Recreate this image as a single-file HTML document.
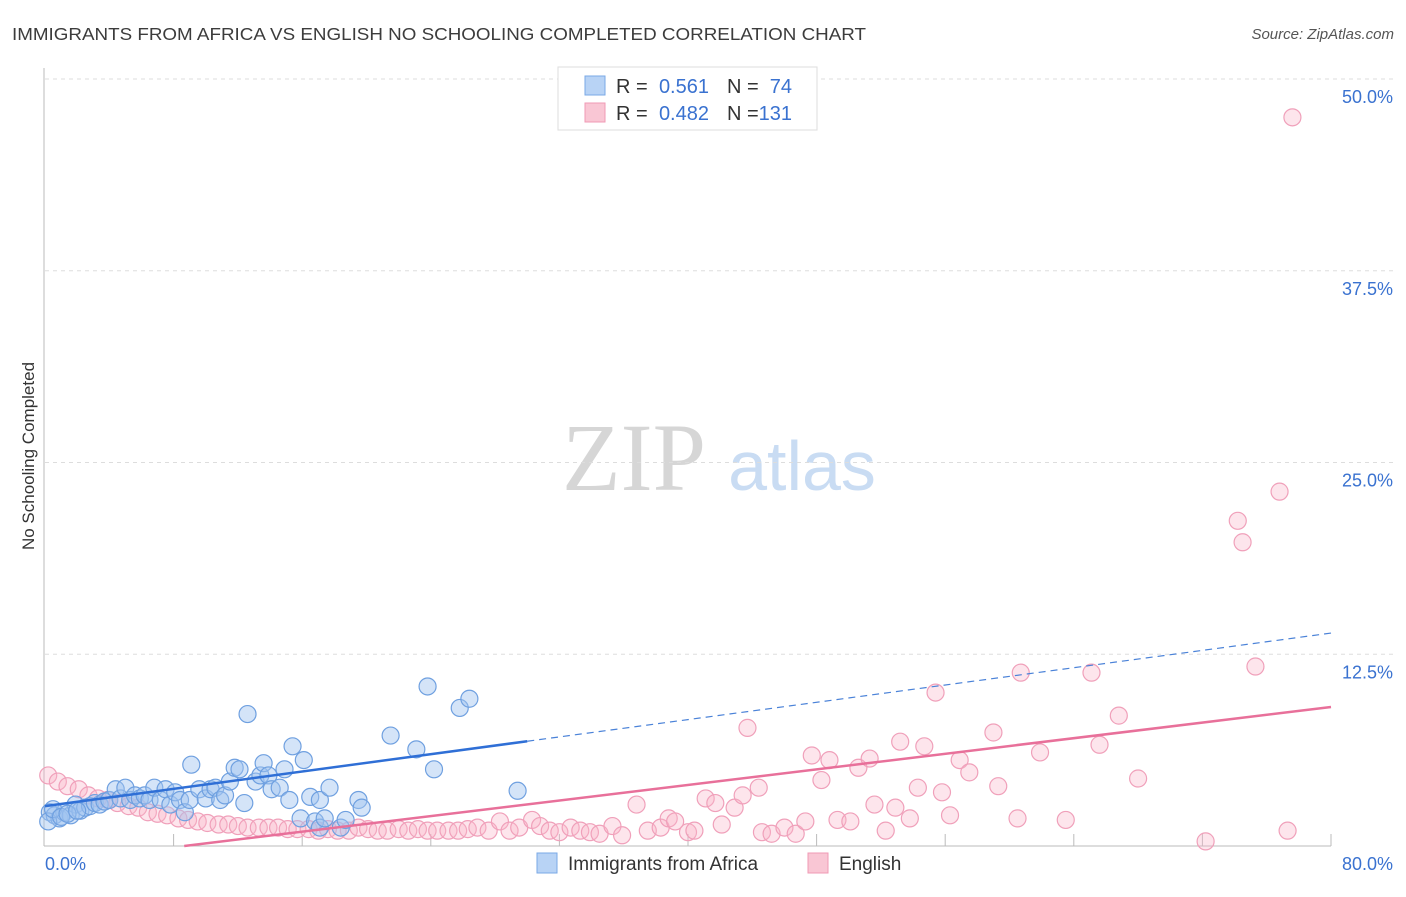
<!DOCTYPE html>
<html><head><meta charset="utf-8"><style>
body{margin:0;background:#fff;font-family:"Liberation Sans",sans-serif}
</style></head><body>
<svg id="c" width="1406" height="892" xmlns="http://www.w3.org/2000/svg" font-family="Liberation Sans, sans-serif">
<text x="12" y="40" font-size="17.5" fill="#3c3c3c" textLength="854" lengthAdjust="spacingAndGlyphs">IMMIGRANTS FROM AFRICA VS ENGLISH NO SCHOOLING COMPLETED CORRELATION CHART</text>
<text x="1394" y="39" font-size="15" fill="#555" text-anchor="end" font-style="italic">Source: ZipAtlas.com</text>
<text transform="translate(34,456) rotate(-90)" font-size="17" fill="#333" text-anchor="middle">No Schooling Completed</text>
<g>
<text x="634" y="490" font-size="96" fill="#d6d6d6" text-anchor="middle" style="font-family:'Liberation Serif',serif">ZIP</text>
<text x="802" y="490" font-size="70" fill="#c9dcf3" text-anchor="middle">atlas</text>
</g>
<g id="grid"></g>
<g id="marks"></g>
<g>
<rect x="558" y="67" width="259" height="63" fill="#fff" stroke="#ddd"/>
<rect x="585" y="76" width="20" height="19" fill="#b8d3f5" stroke="#7aa8e6"/>
<rect x="585" y="103" width="20" height="19" fill="#f9c6d4" stroke="#f09ab5"/>
<text x="616" y="93" font-size="20" fill="#333">R =</text>
<text x="709" y="93" font-size="20" fill="#3a72d0" text-anchor="end">0.561</text>
<text x="727" y="93" font-size="20" fill="#333">N =</text>
<text x="792" y="93" font-size="20" fill="#3a72d0" text-anchor="end">74</text>
<text x="616" y="120" font-size="20" fill="#333">R =</text>
<text x="709" y="120" font-size="20" fill="#3a72d0" text-anchor="end">0.482</text>
<text x="727" y="120" font-size="20" fill="#333">N =</text>
<text x="792" y="120" font-size="20" fill="#3a72d0" text-anchor="end">131</text>
</g>
<g>
<rect x="537" y="853" width="20" height="20" fill="#b8d3f5" stroke="#7aa8e6"/>
<text x="568" y="870" font-size="19" fill="#333">Immigrants from Africa</text>
<rect x="808" y="853" width="20" height="20" fill="#f9c6d4" stroke="#f09ab5"/>
<text x="839" y="870" font-size="19" fill="#333">English</text>
</g>
<text x="45" y="870" font-size="18" fill="#3a72d0">0.0%</text>
<text x="1393" y="870" font-size="18" fill="#3a72d0" text-anchor="end">80.0%</text>
</svg>
<script>
const yTicks=[12.5,25,37.5,50];
const yTickLabels=["12.5%","25.0%","37.5%","50.0%"];
const xTicks=[8,16,24,32,40,48,56,64,72,80];
const blueX=[0.3,0.6,0.9,1.2,1.6,1.9,2.2,2.5,2.8,3.1,3.4,3.7,4.0,4.4,4.7,5.0,5.3,5.6,5.9,6.2,6.5,6.8,7.2,7.5,7.8,8.1,8.4,8.7,9.0,9.1,9.6,10.0,10.3,10.6,10.9,11.2,11.5,11.8,12.1,12.4,12.6,13.1,13.4,13.6,13.9,14.1,14.6,14.9,15.2,15.4,15.9,16.1,16.5,16.8,17.1,17.1,17.4,17.7,18.4,18.7,19.5,19.7,21.5,23.1,23.8,24.2,25.8,26.4,29.4,0.2,0.5,1.0,1.4,2.0];
const blueY=[2.2,2.0,1.8,2.2,2.0,2.7,2.3,2.5,2.6,2.8,2.7,2.9,3.0,3.7,3.1,3.8,3.0,3.3,3.1,3.3,3.0,3.8,3.0,3.7,2.7,3.5,3.0,2.2,3.0,5.3,3.7,3.1,3.7,3.8,3.0,3.3,4.2,5.1,5.0,2.8,8.6,4.2,4.6,5.4,4.6,3.7,3.8,5.0,3.0,6.5,1.8,5.6,3.2,1.6,3.0,1.2,1.8,3.8,1.2,1.7,3.0,2.5,7.2,6.3,10.4,5.0,9.0,9.6,3.6,1.6,2.4,1.9,2.1,2.3];
const pinkX=[0.2,0.8,1.4,2.1,2.7,3.3,3.9,4.5,5.2,5.8,6.4,7.0,7.6,8.3,8.9,9.5,10.1,10.8,11.4,12.0,12.6,13.3,13.9,14.5,15.1,15.7,16.4,17.0,17.6,18.2,18.9,19.5,20.1,20.7,21.3,22.0,22.6,23.2,23.8,24.4,25.1,25.7,26.3,26.9,27.6,28.3,28.9,29.5,30.3,30.8,31.4,32.0,32.7,33.3,33.9,34.5,35.3,35.9,36.8,37.5,38.3,38.8,39.2,40.0,40.4,41.1,41.7,42.1,42.9,43.4,43.7,44.4,44.6,45.2,46.0,46.7,47.3,47.7,48.3,48.8,49.3,50.1,50.6,51.3,51.6,52.3,52.9,53.2,53.8,54.3,54.7,55.4,55.8,56.3,56.9,57.5,59.0,59.3,60.5,60.7,61.9,63.5,65.1,65.6,66.8,68.0,72.2,74.2,74.5,75.3,76.8,77.3,77.6];
const pinkY=[4.6,4.2,3.9,3.7,3.3,3.1,3.0,2.8,2.6,2.5,2.2,2.1,2.0,1.8,1.7,1.6,1.5,1.4,1.4,1.3,1.2,1.2,1.2,1.2,1.1,1.1,1.1,1.0,1.1,1.0,1.0,1.2,1.1,1.0,1.0,1.1,1.0,1.1,1.0,1.0,1.0,1.0,1.1,1.2,1.0,1.6,1.0,1.2,1.7,1.3,1.0,0.9,1.2,1.0,0.9,0.8,1.3,0.7,2.7,1.0,1.2,1.8,1.6,0.9,1.0,3.1,2.8,1.4,2.5,3.3,7.7,3.8,0.9,0.8,1.2,0.8,1.6,5.9,4.3,5.6,1.7,1.6,5.1,5.7,2.7,1.0,2.5,6.8,1.8,3.8,6.5,10.0,3.5,2.0,5.6,4.8,7.4,3.9,1.8,11.3,6.1,1.7,11.3,6.6,8.5,4.4,0.3,21.2,19.8,11.7,23.1,1.0,47.5];
const blueTrend=[2.6,0.141], blueSolidEnd=30;
const pinkTrend=[-1.1,0.127];
const X=v=>45+v/80*1286, Y=v=>846-v/50*767;
const NS="http://www.w3.org/2000/svg";
function mk(t,a,p){const e=document.createElementNS(NS,t);for(const k in a)e.setAttribute(k,a[k]);p.appendChild(e);return e;}
const g=document.getElementById('grid'), m=document.getElementById('marks');
yTicks.forEach((t,i)=>{
 const l=mk('line',{x1:45,x2:1395,y1:Y(t),y2:Y(t),stroke:'#ddd','stroke-dasharray':'4,4'},g);
 
 
 const tx=mk('text',{x:1393,y:Y(t)+24,'font-size':18,fill:'#3a72d0','text-anchor':'end'},g);
 tx.textContent=yTickLabels[i];
 
 
});
const ax=mk('line',{x1:44,x2:44,y1:68,y2:846,stroke:'#bbb'},g);


const bx=mk('line',{x1:44,x2:1331,y1:846,y2:846,stroke:'#bbb'},g);


xTicks.forEach(t=>{const l=mk('line',{x1:X(t),x2:X(t),y1:834,y2:846,stroke:'#bbb'},g);
 
 });
pinkX.forEach((x,i)=>{const c=mk('circle',{cx:X(x),cy:Y(pinkY[i]),r:8.5,fill:'rgba(248,180,200,0.35)',stroke:'#f0a0ba','stroke-width':1.2},m);
 
 });
blueX.forEach((x,i)=>{const c=mk('circle',{cx:X(x),cy:Y(blueY[i]),r:8.5,fill:'rgba(160,196,240,0.45)',stroke:'#6fa0e0','stroke-width':1.2},m);
 
 });
const f=(tr,x)=>tr[0]+tr[1]*x;
const x0=-pinkTrend[0]/pinkTrend[1];
const pl=mk('line',{x1:X(x0),y1:Y(0),x2:X(80),y2:Y(f(pinkTrend,80)),stroke:'#e8709a','stroke-width':2.5},m);


const bl=mk('line',{x1:X(0),y1:Y(f(blueTrend,0)),x2:X(blueSolidEnd),y2:Y(f(blueTrend,blueSolidEnd)),stroke:'#2f6fd6','stroke-width':2.5},m);


const bd=mk('line',{x1:X(blueSolidEnd),y1:Y(f(blueTrend,blueSolidEnd)),x2:X(80),y2:Y(f(blueTrend,80)),stroke:'#4a82d8','stroke-width':1.2,'stroke-dasharray':'7,5'},m);


</script>
</body></html>
